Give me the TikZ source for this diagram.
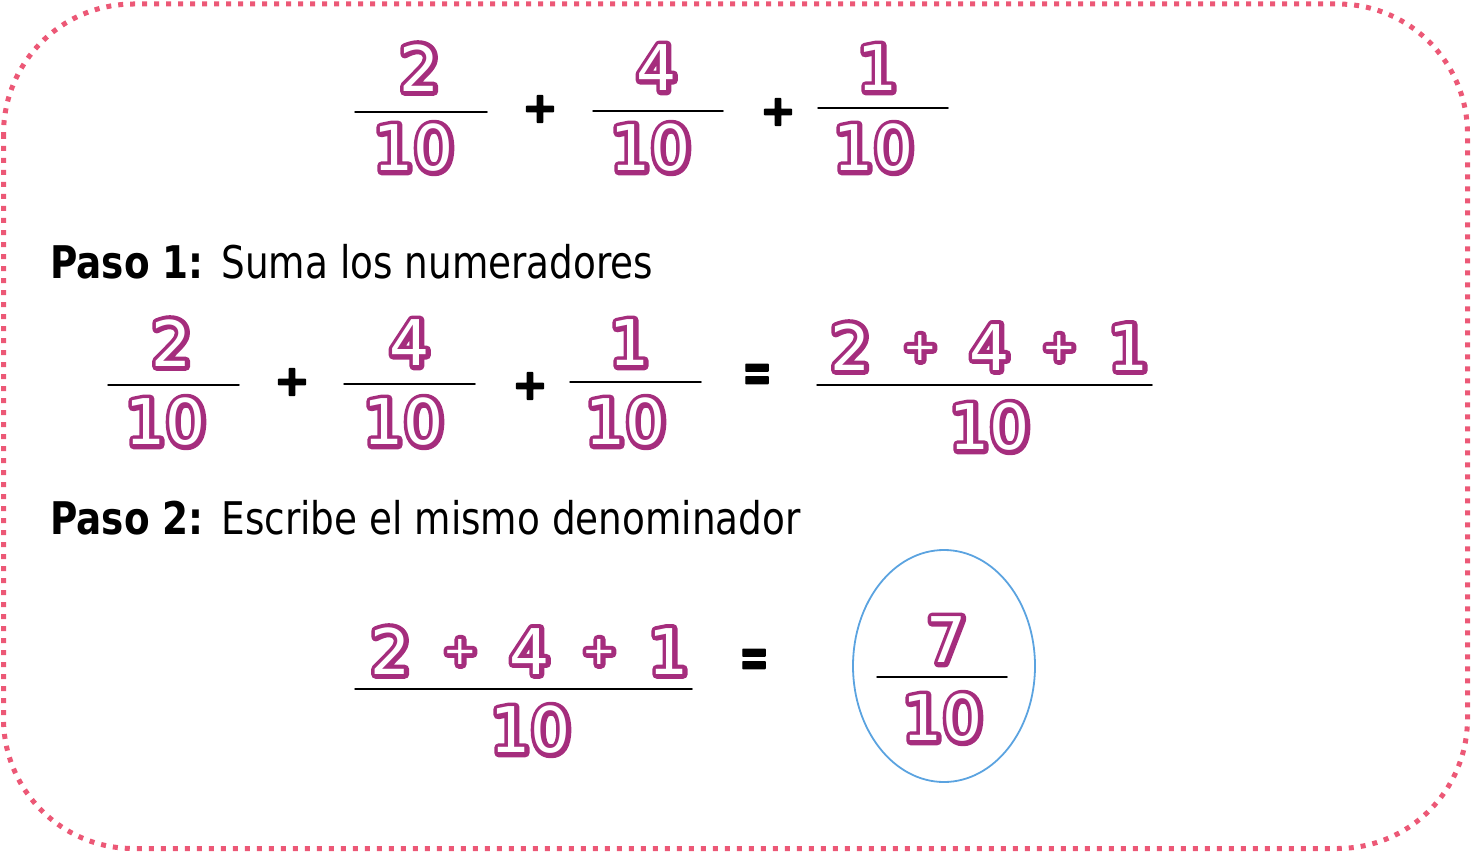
\documentclass[tikz,border=0pt]{standalone}
\usepackage{fontspec}
\usepackage{graphicx}
\usetikzlibrary{shapes.geometric}
\setmainfont{DejaVu Sans}
\newfontfamily\pasofont{DejaVu Sans}[FakeStretch=0.83]
\font\DOut="DejaVu Sans:embolden=14" at 63pt
\font\DIn="DejaVu Sans" at 63pt
\font\POut="DejaVu Sans:embolden=22" at 40pt
\font\PIn="DejaVu Sans" at 40pt
\font\BSym="DejaVu Sans Bold:embolden=5" at 42pt
\font\BEq="DejaVu Sans Bold:embolden=3" at 56pt
\definecolor{purp}{RGB}{165,45,125}
\definecolor{pinkc}{RGB}{236,88,118}
\definecolor{bluec}{RGB}{91,163,224}
\newcommand\dig[1]{\rlap{\color{purp}\DOut #1}{\color{white}\DIn #1}}
\newcommand\splus{\raisebox{10pt}{\rlap{\color{purp}\POut +}{\color{white}\PIn +}}}
\newcommand\sumnum{\makebox[69.5pt]{\dig{2}}\makebox[69.5pt]{\splus}\makebox[69.5pt]{\dig{4}}\makebox[69.5pt]{\splus}\makebox[69.5pt]{\dig{1}}}
\newcommand\eqsign{\scalebox{0.64}[1]{\BEq =}}
\tikzset{
  num/.style={inner sep=0pt, anchor=center},
  bar/.style={line width=1.5pt, black},
  sym/.style={inner sep=0pt, anchor=center, font=\BSym},
  eqsym/.style={inner sep=0pt, anchor=center},
  pasotext/.style={inner sep=0pt, anchor=base west, font=\pasofont\fontsize{45}{54}\selectfont}
}
\begin{document}
\begin{tikzpicture}[x=1pt,y=-1pt,line join=round,line cap=round]
\useasboundingbox (0,0) rectangle (1472,853);
\draw[pinkc, line width=5pt, line cap=butt, dash pattern=on 5pt off 7pt, rounded corners=130pt] (3.5,4) rectangle (1467.5,848.5);
% Row 1
\node[num] (a1) at (420,68) {\dig{2}};
\draw[bar] (355,112) -- (487,112);
\node[num] (b1) at (414,148) {\dig{10}};
\node[sym] (p1) at (540,109) {+};
\node[num] (a2) at (657,68) {\dig{4}};
\draw[bar] (593,111) -- (723,111);
\node[num] (b2) at (651,148) {\dig{10}};
\node[sym] (p2) at (778,112) {+};
\node[num] (a3) at (878,68) {\dig{1}};
\draw[bar] (818,108) -- (948,108);
\node[num] (b3) at (874,148) {\dig{10}};
% Paso 1
\node[pasotext] (paso1) at (50,278) {{\bfseries Paso 1:}\hspace{18pt}Suma los numeradores};
% Row 2
\node[num] (c1) at (172,343) {\dig{2}};
\draw[bar] (108,385) -- (239,385);
\node[num] (d1) at (166,422) {\dig{10}};
\node[sym] (q1) at (292,382) {+};
\node[num] (c2) at (410,343) {\dig{4}};
\draw[bar] (344,384) -- (475,384);
\node[num] (d2) at (404,422) {\dig{10}};
\node[sym] (q2) at (530,386) {+};
\node[num] (c3) at (630,343) {\dig{1}};
\draw[bar] (570,382) -- (701,382);
\node[num] (d3) at (626,422) {\dig{10}};
\node[eqsym] (e1) at (757,378) {\eqsign};
\node[num] (s1) at (990,347) {\sumnum};
\draw[bar] (817,385) -- (1152,385);
\node[num] (t1) at (990,427) {\dig{10}};
% Paso 2
\node[pasotext] (paso2) at (50,534) {{\bfseries Paso 2:}\hspace{18pt}Escribe el mismo denominador};
% Row 3
\node[num] (s2) at (530,651) {\sumnum};
\draw[bar] (355,689) -- (692,689);
\node[num] (t2) at (531,730) {\dig{10}};
\node[eqsym] (e2) at (754,663) {\eqsign};
\node[draw=bluec, line width=1.8pt, ellipse, minimum width=182pt, minimum height=232pt, inner sep=0pt] (ring) at (944,666) {};
\node[num] (r1) at (947,640) {\dig{7}};
\draw[bar] (877,677) -- (1007,677);
\node[num] (r2) at (943,718) {\dig{10}};
\end{tikzpicture}
\end{document}
